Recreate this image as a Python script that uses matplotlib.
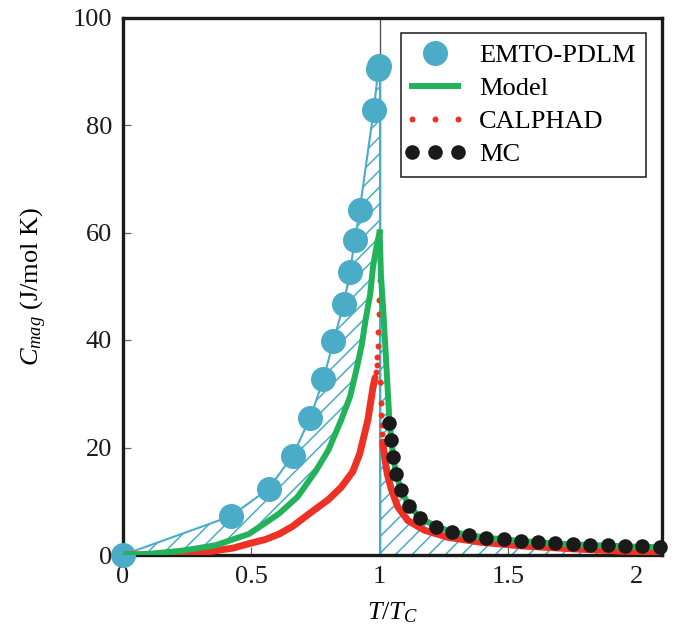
import matplotlib
matplotlib.use("Agg")
import matplotlib.pyplot as plt
from matplotlib.legend_handler import HandlerLine2D

plt.rcParams['font.family'] = ['Liberation Serif', 'DejaVu Serif']
plt.rcParams['mathtext.fontset'] = 'custom'
plt.rcParams['mathtext.rm'] = 'Liberation Serif'
plt.rcParams['mathtext.it'] = 'Liberation Serif:italic'
plt.rcParams['hatch.linewidth'] = 1.1

BLUE = '#4aacc6'
GREEN = '#22b35a'
RED = '#ee3124'
BLACK = '#1a1a1a'

# EMTO-PDLM magnetic heat capacity (T/Tc, J/mol K)
emto_x = [0.0, 0.419, 0.567, 0.661, 0.729, 0.781, 0.820, 0.860, 0.884, 0.903, 0.922, 0.977, 0.995, 0.998]
emto_y = [0.0, 7.2, 12.3, 18.5, 25.5, 32.7, 39.8, 46.7, 52.6, 58.6, 64.1, 82.8, 90.5, 91.0]

# Model curve, ferromagnetic (T < Tc) and paramagnetic (T > Tc) branches
model_lo_x = [0.0, 0.10, 0.23, 0.36, 0.49, 0.556, 0.608, 0.68, 0.752, 0.80, 0.85, 0.885, 0.909,
              0.93, 0.945, 0.963, 0.974, 0.99, 1.0]
model_lo_y = [0.0, 0.2, 0.8, 1.8, 3.9, 6.0, 7.7, 10.8, 15.7, 19.5, 25.1, 29.5, 34.4,
              39.0, 43.7, 48.5, 53.6, 58.0, 60.0]
model_hi_x = [1.0, 1.005, 1.014, 1.025, 1.038, 1.046, 1.052, 1.064, 1.083, 1.114, 1.159, 1.219,
              1.282, 1.349, 1.415, 1.55, 1.70, 1.85, 2.0, 2.1]
model_hi_y = [60.0, 52.0, 45.5, 36.2, 25.0, 21.4, 18.5, 15.2, 12.1, 9.2, 6.9, 5.3,
              4.3, 3.7, 3.2, 2.6, 2.1, 1.8, 1.55, 1.45]

# CALPHAD curve: smooth branches and the sparse points close to Tc
calphad_lo_x = [0.0, 0.25, 0.30, 0.36, 0.43, 0.49, 0.556, 0.608, 0.66, 0.726, 0.80, 0.85, 0.895,
                0.922, 0.954, 0.974, 0.982]
calphad_lo_y = [0.0, 0.1, 0.3, 0.8, 1.3, 2.1, 2.9, 3.9, 5.3, 7.7, 10.3, 12.6, 15.5,
                18.8, 25.1, 31.2, 33.0]
calphad_tc_x = [0.986, 0.988, 0.990, 0.992, 0.994, 0.996, 0.998, 1.000,
                1.002, 1.004, 1.006, 1.008, 1.010]
calphad_tc_y = [34.0, 35.3, 36.8, 38.8, 41.5, 44.9, 47.5, 51.1,
                32.2, 28.2, 26.0, 24.1, 22.6]
calphad_hi_x = [1.012, 1.02, 1.03, 1.045, 1.07, 1.11, 1.175, 1.265, 1.39, 1.55, 1.75, 1.95, 2.1]
calphad_hi_y = [21.0, 18.0, 15.0, 12.3, 9.0, 6.4, 4.6, 3.3, 2.4, 1.7, 1.15, 0.7, 0.5]

# Monte Carlo results above Tc
mc_x = [1.038, 1.046, 1.052, 1.064, 1.083, 1.114, 1.159, 1.219, 1.282, 1.349, 1.415, 1.483,
        1.551, 1.617, 1.685, 1.753, 1.819, 1.888, 1.955, 2.022, 2.091]
mc_y = [24.6, 21.4, 18.3, 15.1, 12.1, 9.1, 6.8, 5.3, 4.3, 3.7, 3.2, 2.9,
        2.6, 2.4, 2.2, 2.0, 1.9, 1.8, 1.6, 1.6, 1.4]

x_ticks = [0, 0.5, 1, 1.5, 2]
x_tick_labels = ['0', '0.5', '1', '1.5', '2']
y_ticks = [0, 20, 40, 60, 80, 100]
TC = 1.0
X_MAX = 2.1

fig = plt.figure(figsize=(6.73, 6.42), dpi=100)
ax = fig.add_axes([123 / 673, 1 - 555 / 642, (662 - 123) / 673, (555 - 17.5) / 642])

# Hatched difference between EMTO-PDLM and the model
poly_x = list(emto_x) + model_lo_x[::-1]
poly_y = list(emto_y) + model_lo_y[::-1]
ax.fill(poly_x, poly_y, facecolor='none', edgecolor=BLUE, linewidth=0, hatch='//', zorder=1)
ax.fill_between(model_hi_x, 0, model_hi_y, facecolor='none', edgecolor=BLUE, linewidth=0,
                hatch='//', zorder=1)

# Critical temperature
ax.axvline(TC, color='#555555', lw=1.0, zorder=1.5)

# EMTO-PDLM
ax.plot(emto_x, emto_y, color=BLUE, lw=1.5, zorder=2)
ax.vlines(TC, 0, emto_y[-1], color=BLUE, lw=1.5, zorder=2)
emto_pts, = ax.plot(emto_x, emto_y, 'o', color=BLUE, ms=17, mec=BLUE, zorder=3, clip_on=False,
                    label='EMTO-PDLM')

# CALPHAD
ax.plot(calphad_lo_x, calphad_lo_y, color=RED, lw=5, solid_capstyle='round',
        solid_joinstyle='round', zorder=4)
ax.plot(calphad_hi_x, calphad_hi_y, color=RED, lw=5, solid_capstyle='round',
        solid_joinstyle='round', zorder=4)
calphad_pts, = ax.plot(calphad_tc_x, calphad_tc_y, 'o', color=RED, ms=4.3, mew=0, zorder=4,
                       label='CALPHAD')

# Model
model_line, = ax.plot(model_lo_x, model_lo_y, color=GREEN, lw=4.3, solid_joinstyle='round',
                      zorder=5, label='Model')
ax.plot(model_hi_x, model_hi_y, color=GREEN, lw=4.3, solid_joinstyle='round', zorder=5)

# Monte Carlo
mc_pts, = ax.plot(mc_x, mc_y, 'o', color=BLACK, ms=10.5, mew=0, zorder=6, clip_on=False,
                  label='MC')

ax.set_xlim(0, X_MAX)
ax.set_ylim(0, 100)
ax.set_xticks(x_ticks)
ax.set_xticklabels(x_tick_labels)
ax.set_yticks(y_ticks)
ax.tick_params(direction='in', length=5.5, width=0.9, color='#666666', labelsize=19,
               labelcolor='#1a1a1a', pad=8, top=False, right=False)
for sp in ax.spines.values():
    sp.set_linewidth(2.4)
    sp.set_color('#1a1a1a')

ax.set_xlabel(r'$T/T_C$', fontsize=19, labelpad=9)
ax.set_ylabel(r'$C_{mag}$ (J/mol K)', fontsize=19, labelpad=17)

leg = ax.legend(handles=[emto_pts, model_line, calphad_pts, mc_pts],
                handler_map={emto_pts: HandlerLine2D(numpoints=1),
                             calphad_pts: HandlerLine2D(numpoints=3, marker_pad=0),
                             mc_pts: HandlerLine2D(numpoints=3, marker_pad=0)},
                loc='upper right', fontsize=19, frameon=True, fancybox=False,
                edgecolor='#1a1a1a', framealpha=1, borderpad=0.4, labelspacing=0.36,
                handlelength=1.75, handletextpad=0.8, borderaxespad=0.6)
leg.get_frame().set_linewidth(1.1)

fig.savefig('out.png', dpi=100)
